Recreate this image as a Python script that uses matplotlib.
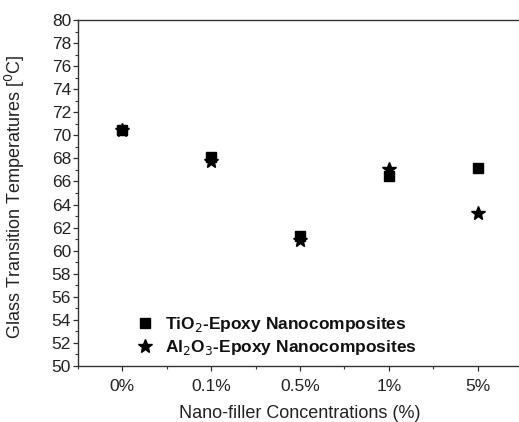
import matplotlib
matplotlib.use("Agg")
import matplotlib.pyplot as plt
from matplotlib.ticker import MultipleLocator

plt.rcParams['font.family'] = ['Liberation Sans', 'DejaVu Sans']

# Filler concentrations and measured glass transition temperatures (°C)
concentrations = ["0%", "0.1%", "0.5%", "1%", "5%"]
tio2_tg = [70.5, 68.1, 61.3, 66.5, 67.2]
al2o3_tg = [70.5, 67.8, 60.9, 67.1, 63.3]

fig = plt.figure(figsize=(5.19, 4.22), dpi=100)
ax = fig.add_axes([78 / 519, 56 / 422, 444 / 519, 346 / 422])

x = list(range(len(concentrations)))
ax.plot(x, tio2_tg, linestyle='none', marker='s', markersize=7.5,
        color='black', label=r'TiO$_2$-Epoxy Nanocomposites')
ax.plot(x, al2o3_tg, linestyle='none', marker='*', markersize=10,
        color='black', label=r'Al$_2$O$_3$-Epoxy Nanocomposites')

ax.set_xlim(-0.5, 4.5)
ax.set_ylim(50, 80)
ax.set_xticks(x)
ax.set_xticklabels(concentrations)
ax.xaxis.set_minor_locator(MultipleLocator(0.5))
ax.yaxis.set_major_locator(MultipleLocator(2))
ax.yaxis.set_minor_locator(MultipleLocator(1))

ax.tick_params(axis='both', which='major', direction='out', length=3.5,
               width=0.9, labelsize=12.5, colors='#333333',
               labelcolor='#222222', pad=1.5)
ax.tick_params(axis='both', which='minor', direction='out', length=2.2,
               width=0.8, colors='#333333')
ax.tick_params(axis='x', which='major', pad=6)
for side in ('left', 'bottom', 'top', 'right'):
    ax.spines[side].set_linewidth(1.0)
    ax.spines[side].set_color('#333333')

ax.set_xlabel('Nano-filler Concentrations (%)', fontsize=13,
              color='#222222', labelpad=7.5)
ax.set_ylabel(r'Glass Transition Temperatures [$^0$C]', fontsize=13,
              color='#222222')
ax.yaxis.set_label_coords(-0.115, 0.49)

leg = ax.legend(loc='lower left', bbox_to_anchor=(0.105, -0.005), frameon=False,
                prop={'weight': 'bold', 'size': 12.5}, handletextpad=0.5,
                labelspacing=0.25, borderaxespad=0.2, handlelength=1.2)
for t in leg.get_texts():
    t.set_color('#111111')

fig.savefig('out.png', dpi=100)
